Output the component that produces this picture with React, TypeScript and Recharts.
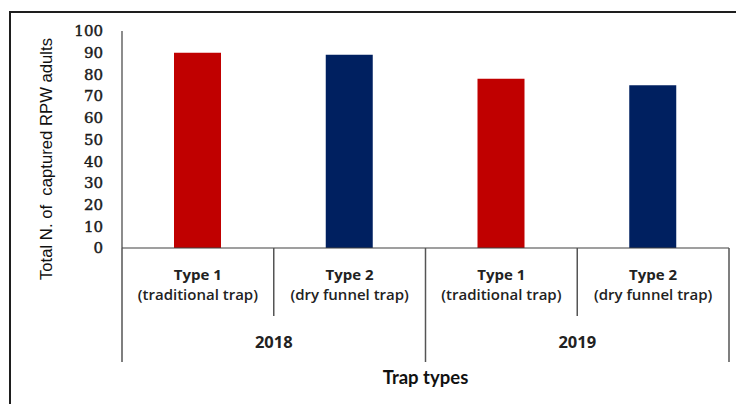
import { BarChart, Bar, XAxis, YAxis, Cell } from "recharts"

const years = ["2018", "2018", "2019", "2019"]
const trapTypes = ["Type 1", "Type 2", "Type 1", "Type 2"]
const trapNames = ["(traditional trap)", "(dry funnel trap)", "(traditional trap)", "(dry funnel trap)"]
const captured = [90, 89, 78, 75]
const yTicks = [0, 10, 20, 30, 40, 50, 60, 70, 80, 90, 100]
const barColors = ["#C00000", "#002060", "#C00000", "#002060"]

const data = captured.map((value, i) => ({
  key: `${years[i]}-${i}`,
  year: years[i],
  type: trapTypes[i],
  name: trapNames[i],
  value,
}))

const W = 736
const H = 396
const margin = { top: 23, right: 15, bottom: 16, left: 0 }
const Y_AXIS_W = 114
const X_AXIS_H = 140
const band = (W - margin.left - margin.right - Y_AXIS_W) / data.length

const labelFont = "'Open Sans', Lato, sans-serif"
const lineColor = "#555"

// two-line category label plus the grouping lines and the year under each pair
const CategoryTick = (props: any) => {
  const { x, y, index } = props
  const d = data[index]
  const left = x - band / 2
  const right = x + band / 2
  return (
    <g>
      <text x={x} y={y + 32} textAnchor="middle" fontFamily={labelFont} fontSize={15} fontWeight={700} fill="#222">
        {d.type}
      </text>
      <text x={x} y={y + 52} textAnchor="middle" fontFamily={labelFont} fontSize={15} fontWeight={600} fill="#222">
        {d.name}
      </text>
      {index === 0 && <line x1={left} x2={left} y1={y} y2={y + 114} stroke={lineColor} strokeWidth={1.5} />}
      <line
        x1={right}
        x2={right}
        y1={y}
        y2={y + (index % 2 === 1 ? 114 : 68)}
        stroke={lineColor}
        strokeWidth={1.5}
      />
      {index % 2 === 1 && (
        <text x={left} y={y + 100} textAnchor="middle" fontFamily={labelFont} fontSize={16.5} fontWeight={700} fill="#222">
          {d.year}
        </text>
      )}
    </g>
  )
}

const YTitle = () => (
  <text
    transform="translate(44,151) rotate(-90)"
    textAnchor="middle"
    fontFamily="'Liberation Sans', Arial, sans-serif"
    fontSize={16.7}
    fill="#111"
    style={{ whiteSpace: "pre" }}
  >
    {"Total N. of  captured RPW adults"}
  </text>
)

const XTitle = (props: any) => {
  const { viewBox } = props
  return (
    <text
      x={viewBox.x + viewBox.width / 2}
      y={376}
      textAnchor="middle"
      fontFamily="Lato, sans-serif"
      fontSize={18.5}
      fontWeight={700}
      fill="#111"
    >
      Trap types
    </text>
  )
}

export default function App() {
  return (
    <div style={{ position: "relative", width: W, height: H, background: "#fff", overflow: "hidden" }}>
      <div
        style={{
          position: "absolute",
          left: 1,
          top: 3,
          width: W - 1,
          height: H - 3,
          borderLeft: "2px solid #1e1e1e",
          borderTop: "2px solid #1e1e1e",
          boxSizing: "border-box",
        }}
      />
      <BarChart width={W} height={H} data={data} margin={margin} style={{ position: "absolute", left: 0, top: 0 }}>
        <XAxis
          dataKey="key"
          height={X_AXIS_H}
          tick={<CategoryTick />}
          tickLine={false}
          tickSize={0}
          tickMargin={0}
          interval={0}
          axisLine={{ stroke: "#404040", strokeWidth: 1.2 }}
          label={{ content: <XTitle /> }}
        />
        <YAxis
          width={Y_AXIS_W}
          domain={[0, 100]}
          ticks={yTicks}
          interval={0}
          tickLine={false}
          tickSize={6}
          tickMargin={13}
          axisLine={{ stroke: "#404040", strokeWidth: 1.2 }}
          tick={{
            fill: "#1a1a1a",
            stroke: "#1a1a1a",
            strokeWidth: 0.45,
            fontSize: 15,
            fontWeight: 400,
            fontFamily: "'DejaVu Serif', serif",
          }}
          label={{ content: <YTitle /> }}
        />
        <Bar dataKey="value" barSize={47} isAnimationActive={false}>
          {data.map((d, i) => (
            <Cell key={d.key} fill={barColors[i]} />
          ))}
        </Bar>
      </BarChart>
    </div>
  )
}
